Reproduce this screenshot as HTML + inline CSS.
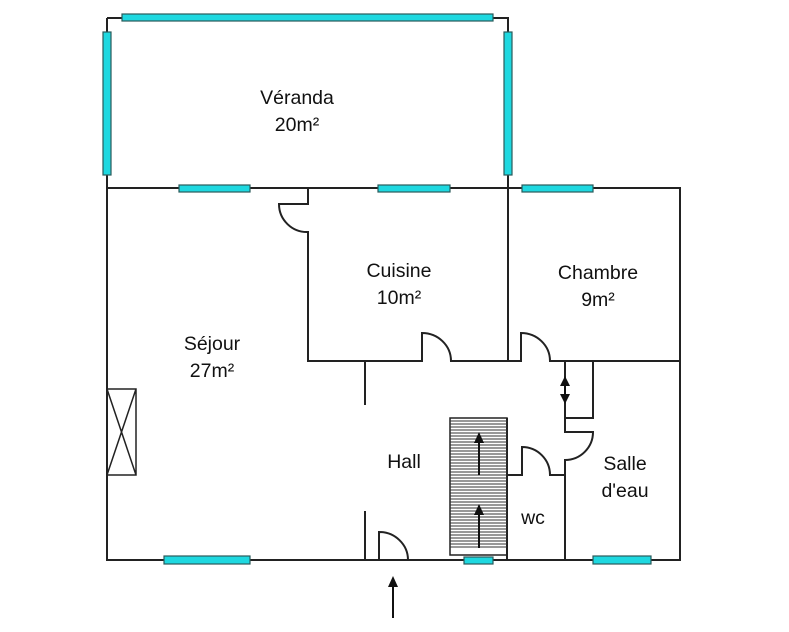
<!DOCTYPE html>
<html><head><meta charset="utf-8"><style>
html,body{margin:0;padding:0;background:#fff;}
svg{display:block}
text{font-family:"Liberation Sans",Arial,sans-serif;font-size:19.5px;fill:#111;text-anchor:middle}
</style></head><body>
<svg width="789" height="632" viewBox="0 0 789 632" xmlns="http://www.w3.org/2000/svg">
<g stroke="#222" stroke-width="2" fill="none">
<path d="M107 18 H508 V188 M107 18 V188"/>
<path d="M107 188 H680 V560 H107 Z"/>
<path d="M308 188 V204 H279 A28 28 0 0 0 308 232 V361 H422 V333 A29 28 0 0 1 451 361 H508 V188"/>
<path d="M508 361 H521 V333 A29 28 0 0 1 550 361 H680"/>
<path d="M365 361 V405 M365 511 V560"/>
<path d="M565 361 V418 H593 V361"/>
<path d="M565 418 V432 H593 A28 28 0 0 1 565 460 V560"/>
<path d="M507 418 V560 M507 475 H522 V447 A28 28 0 0 1 550 475 H565"/>
<rect x="450" y="418" width="57" height="137" stroke-width="1.5"/>
<path d="M379 560 V532 A29 28 0 0 1 408 560"/>
<path d="M107 389 H136 V475 H107 M107 389 L136 475 M136 389 L107 475" stroke-width="1.5"/>
</g>
<g stroke="#333" stroke-width="1">
<path d="M450 421H507M450 424H507M450 427H507M450 430H507M450 433H507M450 436H507M450 439H507M450 442H507M450 445H507M450 448H507M450 451H507M450 454H507M450 457H507M450 460H507M450 463H507M450 466H507M450 469H507M450 472H507M450 475H507M450 478H507M450 481H507M450 484H507M450 487H507M450 490H507M450 493H507M450 496H507M450 499H507M450 502H507M450 505H507M450 508H507M450 511H507M450 514H507M450 517H507M450 520H507M450 523H507M450 526H507M450 529H507M450 532H507M450 535H507M450 538H507M450 541H507M450 544H507M450 547H507"/>
</g>
<g stroke="#111" stroke-width="2" fill="#111">
<line x1="479" y1="475" x2="479" y2="440"/><path d="M474 443 L479 432 L484 443 Z" stroke="none"/>
<line x1="479" y1="548" x2="479" y2="512"/><path d="M474 515 L479 504 L484 515 Z" stroke="none"/>
<line x1="393" y1="618" x2="393" y2="584"/><path d="M388 587 L393 576 L398 587 Z" stroke="none"/>
<line x1="565" y1="380" x2="565" y2="400"/>
<path d="M560 386 L565 376 L570 386 Z M560 394 L565 404 L570 394 Z" stroke="none"/>
</g>
<g fill="#1ed8e0" stroke="#2a5a5a" stroke-width="1.2">
<rect x="122" y="14" width="371" height="7"/>
<rect x="103" y="32" width="8" height="143"/>
<rect x="504" y="32" width="8" height="143"/>
<rect x="179" y="185" width="71" height="7"/>
<rect x="378" y="185" width="72" height="7"/>
<rect x="522" y="185" width="71" height="7"/>
<rect x="164" y="556" width="86" height="8"/>
<rect x="464" y="557" width="29" height="7"/>
<rect x="593" y="556" width="58" height="8"/>
</g>
<text x="297" y="104">Véranda</text>
<text x="297" y="131">20m²</text>
<text x="399" y="277">Cuisine</text>
<text x="399" y="304">10m²</text>
<text x="598" y="279">Chambre</text>
<text x="598" y="306">9m²</text>
<text x="212" y="350">Séjour</text>
<text x="212" y="377">27m²</text>
<text x="404" y="468">Hall</text>
<text x="625" y="470">Salle</text>
<text x="625" y="497">d'eau</text>
<text x="533" y="524">wc</text>
</svg>
</body></html>
